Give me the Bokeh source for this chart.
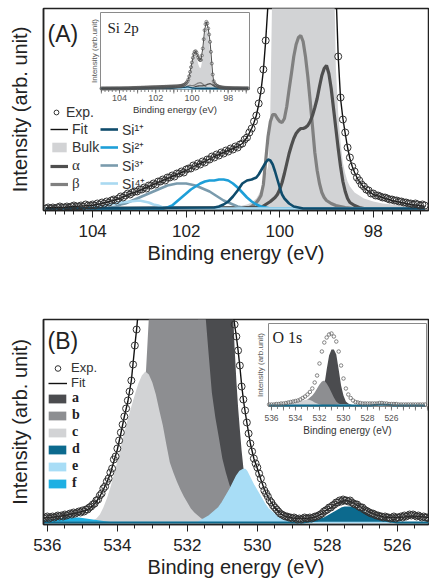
import numpy as np
from bokeh.plotting import figure
from bokeh.models import Range1d, FixedTicker, Legend, LegendItem, Label
from bokeh.layouts import column
from bokeh.embed import file_html
from bokeh.resources import INLINE
from bokeh.core.properties import value

# ======================= DATA : Si 2p (panel A) =======================
# (binding energy eV, intensity arb.u.)
si_exp = [
(105.00,0),(104.95,1),(104.90,0),(104.85,1),(104.80,0),(104.75,1),(104.70,2),(104.65,1),(104.60,1),(104.55,2),
(104.50,1),(104.45,2),(104.40,3),(104.35,2),(104.30,2),(104.25,3),(104.20,2),(104.15,4),(104.10,3),(104.05,3),
(104.00,4),(103.95,3),(103.90,5),(103.85,4),(103.80,6),(103.75,5),(103.70,7),(103.65,6),(103.60,8),(103.55,9),
(103.50,8),(103.45,10),(103.40,12),(103.35,11),(103.30,13),(103.25,15),(103.20,14),(103.15,16),(103.10,17),(103.05,17),
(103.00,19),(102.95,19),(102.90,21),(102.85,20),(102.80,23),(102.75,23),(102.70,25),(102.65,24),(102.60,27),(102.55,27),
(102.50,29),(102.45,28),(102.40,31),(102.35,31),(102.30,33),(102.25,32),(102.20,35),(102.15,35),(102.10,37),(102.05,36),
(102.00,39),(101.95,40),(101.90,40),(101.85,43),(101.80,42),(101.75,45),(101.70,44),(101.65,47),(101.60,46),(101.55,49),
(101.50,49),(101.45,52),(101.40,51),(101.35,54),(101.30,53),(101.25,56),(101.20,55),(101.15,58),(101.10,57),(101.05,60),
(101.00,59),(100.95,62),(100.90,61),(100.85,64),(100.80,65),(100.75,69),(100.70,71),(100.65,76),(100.60,80),(100.55,87),
(100.50,93),(100.45,105),(100.40,118),(100.35,139),(100.30,168),(100.25,206),(100.20,270),(100.15,370),(100.10,500),(100.05,640),
(100.00,780),(99.95,920),(99.90,1030),(99.85,1100),(99.80,1120),(99.75,1080),(99.70,1000),(99.65,930),(99.60,880),(99.55,850),
(99.50,860),(99.45,990),(99.40,1200),(99.35,1480),(99.30,1750),(99.25,1930),(99.20,2000),(99.15,1950),(99.10,1800),(99.05,1620),
(99.00,1400),(98.95,1100),(98.90,750),(98.85,420),(98.80,222),(98.75,152),(98.70,111),(98.65,89),(98.60,76),(98.55,61),
(98.50,51),(98.45,42),(98.40,37),(98.35,31),(98.30,28),(98.25,24),(98.20,22),(98.15,19),(98.10,18),(98.05,15),
(98.00,15),(97.95,13),(97.90,13),(97.85,12),(97.80,11),(97.75,11),(97.70,10),(97.65,9),(97.60,9),(97.55,8),
(97.50,8),(97.45,7),(97.40,7),(97.35,6),(97.30,6),(97.25,5),(97.20,5),(97.15,4),(97.10,5),(97.05,4),
(97.00,3),(96.95,4),(96.90,3)]
si_fit = [
(105.0,0.5),(104.8,1),(104.6,1.2),(104.4,2),(104.2,2.6),(104.0,3.3),(103.8,5),(103.6,7.5),(103.4,10.5),(103.2,14.5),
(103.0,18),(102.8,22),(102.6,26),(102.4,30),(102.2,34),(102.0,38),(101.8,43),(101.6,47),(101.4,52),(101.2,56),
(101.0,60),(100.9,62),(100.8,65),(100.7,71),(100.6,80),(100.55,86),(100.5,93),(100.45,104),(100.4,118),(100.35,138),
(100.3,168),(100.25,205),(100.2,270),(100.1,500),(100.0,780),(99.9,1030),(99.8,1120),(99.7,1000),(99.6,880),(99.5,860),
(99.4,1200),(99.3,1750),(99.2,2000),(99.1,1800),(99.0,1400),(98.95,1100),(98.9,750),(98.85,420),(98.8,220),(98.75,152),
(98.7,110),(98.65,90),(98.6,75),(98.55,61),(98.5,50),(98.45,42),(98.4,36),(98.35,31),(98.3,27),(98.2,21),
(98.1,17),(98.0,14),(97.8,11),(97.6,8),(97.4,6),(97.2,4),(97.0,3),(96.9,2)]
si_bulk = [
(101.0,1),(100.8,3),(100.7,4),(100.6,6),(100.5,10),(100.45,14),(100.4,19),(100.35,26),(100.3,34),(100.25,42),
(100.2,100),(100.15,250),(100.1,430),(100.05,620),(100.0,780),(99.95,900),(99.9,960),(99.85,990),(99.8,985),(99.75,930),
(99.7,840),(99.65,730),(99.6,650),(99.55,610),(99.5,640),(99.45,790),(99.4,1000),(99.35,1270),(99.3,1530),(99.25,1720),
(99.2,1790),(99.15,1740),(99.1,1590),(99.05,1380),(99.0,1120),(98.95,780),(98.9,470),(98.85,260),(98.8,140),(98.75,95),
(98.7,66),(98.65,46),(98.6,35),(98.55,27),(98.5,22),(98.4,16),(98.3,13),(98.2,10),(98.0,7),(97.8,5),
(97.6,4),(97.4,3),(97.2,3),(97.0,2),(96.9,2)]
si_alpha = [
(105.0,0),(100.4,1),(100.3,4),(100.2,7),(100.1,11),(100.05,14),(100.0,19),(99.95,26),(99.9,35),(99.85,45),
(99.8,55),(99.75,63),(99.7,70),(99.65,75),(99.6,78),(99.55,80),(99.5,80),(99.45,81),(99.4,83),(99.35,87),
(99.3,93),(99.25,101),(99.2,110),(99.15,122),(99.1,133),(99.05,140),(99.0,143),(98.95,135),(98.9,120),(98.85,100),
(98.8,80),(98.75,60),(98.7,42),(98.65,27),(98.6,17),(98.55,10),(98.5,6),(98.4,3),(98.3,1),(98.2,0),(96.9,0)]
si_beta = [
(105.0,0),(100.7,0),(100.6,2),(100.5,6),(100.45,9),(100.4,13),(100.35,24),(100.3,48),(100.25,72),(100.2,87),
(100.15,94),(100.1,94),(100.05,90),(100.0,87),(99.95,86),(99.9,90),(99.85,102),(99.8,119),(99.75,135),(99.7,152),
(99.65,164),(99.6,171),(99.55,173),(99.5,167),(99.45,152),(99.4,132),(99.35,108),(99.3,82),(99.25,56),(99.2,38),
(99.15,25),(99.1,16),(99.05,11),(99.0,8),(98.9,5),(98.8,3),(98.7,2),(98.6,1),(98.4,0),(96.9,0)]
si_1p = [
(105.0,0),(101.4,1),(101.3,2),(101.2,4),(101.1,7),(101.0,12),(100.9,18),(100.8,25),(100.7,28),(100.6,29),
(100.5,31),(100.45,34),(100.4,38),(100.35,42),(100.3,46),(100.25,49),(100.2,48),(100.15,44),(100.1,37),(100.05,29),
(100.0,21),(99.95,14),(99.9,10),(99.8,5),(99.7,2),(99.6,1),(99.5,0),(96.9,0)]
si_2p = [
(105.0,0),(102.5,0),(102.4,1),(102.3,3),(102.2,7),(102.1,11),(102.0,15),(101.9,19),(101.8,22),(101.7,25),
(101.6,27),(101.5,28),(101.4,28),(101.3,29),(101.2,29),(101.1,28),(101.0,25),(100.9,21),(100.8,16),(100.7,11),
(100.6,7),(100.5,4),(100.4,2),(100.3,1),(100.2,0),(96.9,0)]
si_3p = [
(105.0,0),(103.7,0),(103.6,1),(103.5,2),(103.4,4),(103.3,5),(103.2,7),(103.1,9),(103.0,11),(102.9,13),
(102.8,15),(102.7,17),(102.6,19),(102.5,21),(102.4,23),(102.3,24),(102.2,25),(102.1,25),(102.0,25),(101.9,24),
(101.8,23),(101.7,21),(101.6,19),(101.5,17),(101.4,14),(101.3,11),(101.2,8),(101.1,6),(101.0,4),(100.9,2),
(100.8,1),(100.7,0),(96.9,0)]
si_4p = [
(105.0,0),(104.1,0),(104.0,1),(103.8,2),(103.6,4),(103.4,6),(103.2,7),(103.0,8),(102.9,7),(102.8,6),
(102.7,4),(102.6,3),(102.5,1),(102.4,0),(96.9,0)]
si_ticks = [104, 102, 100, 98]

# ======================= DATA : O 1s (panel B) =======================
o_exp = [
(536.10,4),(536.05,5),(536.00,6),(535.95,4),(535.90,5),(535.85,6),(535.80,5),(535.75,6),(535.70,7),(535.65,6),
(535.60,7),(535.55,6),(535.50,8),(535.45,7),(535.40,8),(535.35,9),(535.30,8),(535.25,10),(535.20,9),(535.15,10),
(535.10,11),(535.05,10),(535.00,12),(534.95,11),(534.90,13),(534.85,13),(534.80,15),(534.75,16),(534.70,18),(534.65,19),
(534.60,22),(534.55,23),(534.50,27),(534.45,29),(534.40,34),(534.35,36),(534.30,41),(534.25,44),(534.20,50),(534.15,54),
(534.10,63),(534.05,66),(534.00,74),(533.95,82),(533.90,90),(533.85,98),(533.80,106),(533.75,114),(533.70,122),(533.65,131),
(533.60,142),(533.55,158),(533.50,177),(533.45,193),(533.40,212),(533.35,240),(533.30,265),(533.25,295),(533.20,325),(533.15,360),
(533.10,400),(533.05,440),(533.00,480),(532.95,525),(532.90,570),(532.85,610),(532.80,660),(532.75,710),(532.70,760),(532.65,820),
(532.60,870),(532.55,920),(532.50,960),(532.45,1000),(532.40,1040),(532.35,1080),(532.30,1110),(532.25,1140),(532.20,1160),(532.15,1180),
(532.10,1190),(532.05,1195),(532.00,1195),(531.95,1190),(531.90,1180),(531.85,1160),(531.80,1130),(531.75,1100),(531.70,1060),(531.65,1010),
(531.60,960),(531.55,900),(531.50,840),(531.45,780),(531.40,720),(531.35,660),(531.30,600),(531.25,540),(531.20,490),(531.15,440),
(531.10,400),(531.05,360),(531.00,330),(530.95,300),(530.90,275),(530.85,255),(530.80,240),(530.75,225),(530.70,212),(530.65,198),
(530.60,186),(530.55,172),(530.50,157),(530.45,136),(530.40,123),(530.35,112),(530.30,100),(530.25,89),(530.20,79),(530.15,71),
(530.10,64),(530.05,59),(530.00,55),(529.95,49),(529.90,44),(529.85,37),(529.80,32),(529.75,29),(529.70,26),(529.65,22),
(529.60,20),(529.55,17),(529.50,15),(529.45,13),(529.40,11),(529.35,9),(529.30,8),(529.25,7),(529.20,6),(529.15,6),
(529.10,5),(529.05,5),(529.00,4),(528.95,5),(528.90,4),(528.85,3),(528.80,4),(528.75,3),(528.70,4),(528.65,5),
(528.60,4),(528.55,4),(528.50,5),(528.45,4),(528.40,5),(528.35,6),(528.30,6),(528.25,7),(528.20,8),(528.15,9),
(528.10,11),(528.05,12),(528.00,13),(527.95,15),(527.90,15),(527.85,17),(527.80,18),(527.75,20),(527.70,20),(527.65,22),
(527.60,21),(527.55,23),(527.50,22),(527.45,22),(527.40,21),(527.35,22),(527.30,20),(527.25,19),(527.20,18),(527.15,18),
(527.10,16),(527.05,15),(527.00,15),(526.95,13),(526.90,12),(526.85,11),(526.80,10),(526.75,9),(526.70,9),(526.65,8),
(526.60,7),(526.55,7),(526.50,6),(526.45,6),(526.40,5),(526.35,6),(526.30,5),(526.25,5),(526.20,4),(526.15,5),
(526.10,6),(526.05,4),(526.00,5),(525.95,5),(525.90,6),(525.85,5),(525.80,7),(525.75,6),(525.70,7),(525.65,8),
(525.60,7),(525.55,8),(525.50,7),(525.45,6),(525.40,7),(525.35,6),(525.30,5),(525.25,6),(525.20,5),(525.15,5),
(525.10,4)]
o_fit = [
(536.1,4.5),(535.9,5),(535.7,6),(535.5,7),(535.3,8.5),(535.1,10),(534.9,12),(534.8,14),(534.7,17),(534.6,21),
(534.5,26),(534.4,33),(534.3,40),(534.2,49),(534.1,61),(534.0,73),(533.9,89),(533.8,106),(533.7,121),(533.6,142),
(533.5,177),(533.45,193),(533.4,212),(533.3,265),(533.2,325),(533.0,480),(532.8,650),(532.5,960),(532.2,1160),(532.0,1195),
(531.8,1130),(531.5,840),(531.2,490),(531.0,330),(530.9,275),(530.8,240),(530.7,212),(530.65,198),(530.6,186),(530.55,172),
(530.5,156),(530.45,138),(530.4,123),(530.35,111),(530.3,100),(530.2,79),(530.1,64),(530.0,54),(529.9,43),(529.8,33),
(529.7,26),(529.6,20),(529.5,15),(529.4,11),(529.3,8),(529.2,6),(529.0,4.5),(528.8,4),(528.6,4),(528.4,5),
(528.3,6),(528.2,8),(528.1,10.5),(528.0,13),(527.9,15),(527.8,17.5),(527.7,19.5),(527.6,21),(527.5,22),(527.4,21.5),
(527.3,20.5),(527.2,18.5),(527.1,16.5),(527.0,14.5),(526.9,12.5),(526.8,10.5),(526.7,9),(526.6,7.5),(526.5,6.5),(526.4,5.5),
(526.2,5),(526.0,5),(525.8,5.5),(525.6,6.5),(525.4,6),(525.1,5)]
o_a = [
(532.6,2),(532.4,8),(532.2,20),(532.0,50),(531.8,120),(531.6,280),(531.5,400),(531.4,540),(531.3,700),(531.2,830),
(531.1,890),(531.0,820),(530.9,600),(530.8,370),(530.75,280),(530.7,215),(530.65,175),(530.6,142),(530.55,115),(530.5,93),
(530.45,72),(530.4,55),(530.35,45),(530.3,37),(530.2,24),(530.1,15),(530.0,10),(529.8,5),(529.6,2),(529.4,1),(529.2,0)]
o_b = [
(534.8,0),(534.4,2),(534.0,6),(533.8,12),(533.6,25),(533.4,60),(533.3,90),(533.2,140),(533.15,172),(533.1,205),
(533.0,270),(532.8,360),(532.6,420),(532.4,450),(532.2,440),(532.0,400),(531.8,330),(531.7,290),(531.6,255),(531.5,215),
(531.4,172),(531.3,130),(531.2,105),(531.1,85),(531.0,64),(530.9,50),(530.8,38),(530.7,28),(530.6,20),(530.5,14),
(530.4,9),(530.3,5),(530.2,3),(530.0,1),(529.8,0)]
o_c = [
(534.9,0),(534.8,1),(534.7,2),(534.6,4),(534.5,8),(534.4,15),(534.3,24),(534.2,35),(534.1,48),(534.0,61),
(533.9,76),(533.8,90),(533.7,104),(533.6,116),(533.5,128),(533.4,139),(533.3,147),(533.2,151),(533.1,148),(533.0,140),
(532.9,128),(532.8,112),(532.7,97),(532.6,78),(532.5,60),(532.4,50),(532.3,41),(532.2,33),(532.1,26),(532.0,20),
(531.9,14),(531.8,10),(531.7,7),(531.6,4),(531.5,3),(531.4,2),(531.2,1),(531.0,0)]
o_d = [
(536.1,0),(528.7,0),(528.5,1),(528.3,2),(528.2,3),(528.1,4),(528.0,6),(527.9,8),(527.8,10),(527.7,12),
(527.6,14),(527.5,15),(527.4,15),(527.3,15),(527.2,14),(527.1,12),(527.0,11),(526.9,9),(526.8,7),(526.7,5),
(526.6,4),(526.5,3),(526.4,2),(526.2,1),(526.0,0),(525.1,0)]
o_e = [
(536.1,0),(531.7,0),(531.6,2),(531.5,4),(531.4,6),(531.3,9),(531.2,12),(531.1,15),(531.0,20),(530.9,26),
(530.8,32),(530.7,39),(530.6,46),(530.5,51),(530.4,53),(530.35,53),(530.3,51),(530.2,44),(530.1,37),(530.0,31),
(529.9,25),(529.8,19),(529.7,14),(529.6,11),(529.5,8),(529.4,5),(529.3,3),(529.2,2),(529.0,1),(528.8,0),(525.1,0)]
o_f = [
(536.1,2),(535.9,3),(535.7,4),(535.5,5),(535.3,5),(535.1,5),(534.9,4),(534.7,3),(534.5,2),(534.3,1),(534.1,0)]
o_ticks = [536, 534, 532, 530, 528, 526]

# O 1s overview spectrum shown in the inset (as recorded there)
oi_exp = [
(536.2,1),(536.0,1),(535.8,1),(535.6,1.5),(535.4,1.5),(535.2,2),(535.0,2),(534.8,2.5),(534.6,3),(534.4,3.5),
(534.2,4),(534.0,4.5),(533.8,5),(533.6,6),(533.4,7.5),(533.2,9),(533.0,11),(532.8,13.5),(532.6,17),(532.4,23),
(532.2,30),(532.0,42),(531.8,54),(531.6,63),(531.4,68),(531.2,71),(531.0,72),(530.8,69),(530.6,64),(530.4,54),
(530.2,40),(530.0,27),(529.8,17),(529.6,11),(529.4,7.5),(529.2,5),(529.0,3.5),(528.8,3),(528.6,2.5),(528.4,2),
(528.2,2),(528.0,2),(527.8,2),(527.6,2),(527.4,2),(527.2,2),(527.0,2.5),(526.8,2.5),(526.6,2),(526.4,2),
(526.2,1.5),(526.0,1.5),(525.8,1.5),(525.6,1.5),(525.4,1),(525.2,1),(525.0,1),(524.8,1),(524.6,1),(524.4,1),
(524.2,1),(524.0,1),(523.8,1),(523.6,1),(523.4,1),(523.2,1)]
oi_a = [
(532.6,0),(532.4,1),(532.2,3),(532.0,6),(531.8,11),(531.6,20),(531.4,36),(531.2,50),(531.0,56),(530.8,56),
(530.6,51),(530.4,36),(530.2,20),(530.0,10),(529.8,4),(529.6,2),(529.4,1),(529.2,0)]
oi_b = [
(534.6,0),(534.4,1),(534.0,2),(533.6,3),(533.4,3.5),(533.2,4.5),(533.0,6),(532.8,8),(532.6,10),(532.4,13),
(532.2,17),(532.0,21),(531.8,24),(531.6,25),(531.4,22),(531.2,18),(531.0,13),(530.8,8),(530.6,4),(530.4,2),
(530.2,1),(530.0,0)]
oi_c = [
(535.4,0),(535.2,0.5),(534.8,1.5),(534.4,2.5),(534.0,3.5),(533.6,4.5),(533.2,5.5),(533.0,6),(532.8,5.5),(532.6,4.5),
(532.4,3),(532.2,2),(532.0,1),(531.8,0.5),(531.6,0)]
oi_e = [(531.2,0),(530.8,0.5),(530.4,1),(530.0,1.2),(529.6,1),(529.2,0.5),(528.8,0)]
oi_d = [(536.2,0),(527.8,0),(527.4,0.5),(527.0,0.8),(526.6,0.8),(526.2,0.5),(525.8,0),(523.2,0)]

# ======================= STYLE =======================
FONT = "Liberation Sans"
SERIF = "Liberation Serif"
INK = "#222222"
C_BULK, C_ALPHA, C_BETA = "#d2d3d5", "#4f4f4f", "#808080"
C_SI1, C_SI2, C_SI3, C_SI4 = "#0f4c6c", "#1e9fd8", "#7a9bad", "#a9d9f1"
C_A, C_B, C_C, C_D, C_E, C_F = "#4b4c4f", "#8d8e91", "#d2d3d5", "#0c6a8e", "#a8ddf6", "#1fb0e3"

W = 429
FL, FR = 43, 428


def xy(pairs):
    return [q[0] for q in pairs], [q[1] for q in pairs]


def lin(p, p0, p1, v0, v1):
    return v0 + (p - p0) * (v1 - v0) / (p1 - p0)


def base_fig(height, ftop, fbot, xr, yr, ticks, minor):
    p = figure(width=W, height=height, x_range=Range1d(*xr), y_range=Range1d(*yr),
               output_backend="svg", toolbar_location=None,
               min_border_left=FL, min_border_right=W - FR,
               min_border_top=ftop, min_border_bottom=height - fbot)
    p.grid.visible = False
    p.outline_line_color = INK
    p.outline_line_width = 1.5
    p.outline_line_alpha = 1
    xa = p.xaxis[0]
    xa.ticker = FixedTicker(ticks=ticks, minor_ticks=minor)
    xa.major_tick_out = 7
    xa.major_tick_in = 0
    xa.minor_tick_out = 4
    xa.minor_tick_in = 0
    xa.major_tick_line_color = INK
    xa.minor_tick_line_color = INK
    xa.axis_line_color = INK
    xa.axis_line_width = 1.5
    xa.major_label_text_font = FONT
    xa.major_label_text_font_size = "17px"
    xa.major_label_text_color = INK
    xa.major_label_standoff = 7
    xa.axis_label = "Binding energy (eV)"
    xa.axis_label_text_font = FONT
    xa.axis_label_text_font_size = "20px"
    xa.axis_label_text_font_style = "normal"
    xa.axis_label_text_color = INK
    xa.axis_label_standoff = 2
    ya = p.yaxis[0]
    ya.ticker = FixedTicker(ticks=[])
    ya.major_tick_out = 0
    ya.minor_tick_out = 0
    ya.major_label_standoff = 0
    ya.axis_line_color = INK
    ya.axis_line_width = 1.5
    ya.axis_label = "Intensity (arb. unit)"
    ya.axis_label_text_font = FONT
    ya.axis_label_text_font_size = "20px"
    ya.axis_label_text_font_style = "normal"
    ya.axis_label_text_color = INK
    ya.axis_label_standoff = 13
    return p


def add_legend(p, fbot, items, left_px, top_px, gw, gh, lh, sp, font, size, bold=False, color="#333333"):
    n = len(items)
    e = max(gh, lh)
    h = n * e + (n - 1) * sp
    lg = Legend(items=[LegendItem(label=l, renderers=[r]) for l, r in items],
                location=(left_px - FL, fbot - top_px - h))
    lg.background_fill_alpha = 0
    lg.border_line_alpha = 0
    lg.padding = 0
    lg.margin = 0
    lg.spacing = sp
    lg.glyph_width = gw
    lg.glyph_height = gh
    lg.label_height = lh
    lg.label_standoff = 4
    lg.label_text_font = font
    lg.label_text_font_size = size
    lg.label_text_color = color
    lg.label_text_font_style = "bold" if bold else "normal"
    p.add_layout(lg)
    return lg


def inset_frame(p, ftop, fbot, box, ixr, iyr):
    l, r, t, b = box
    p.extra_x_ranges["ix"] = Range1d(start=lin(FL, l, r, *ixr), end=lin(FR, l, r, *ixr))
    p.extra_y_ranges["iy"] = Range1d(start=lin(fbot, b, t, *iyr), end=lin(ftop, b, t, *iyr))
    p.quad(left=[ixr[0]], right=[ixr[1]], bottom=[iyr[0]], top=[iyr[1]],
           x_range_name="ix", y_range_name="iy",
           fill_color="white", line_color="#8a8a8a", line_width=1)


def inset_axis(p, box, ixr, iyr, minor, major, labels, lab_size, xlab_size, ylab_x, lab_top, xlab_top):
    l, r, t, b = box
    Y = lambda py: lin(py, b, t, *iyr)
    X = lambda px: lin(px, l, r, *ixr)
    kw = dict(x_range_name="ix", y_range_name="iy")
    p.segment(x0=minor, y0=[iyr[0]] * len(minor), x1=minor, y1=[Y(b + 2.5)] * len(minor),
              line_color="#666666", line_width=0.8, **kw)
    p.segment(x0=major, y0=[iyr[0]] * len(major), x1=major, y1=[Y(b + 4)] * len(major),
              line_color="#666666", line_width=0.8, **kw)
    p.text(x=labels, y=[Y(lab_top)] * len(labels), text=[str(v) for v in labels],
           text_font=value(FONT), text_font_size=value(lab_size), text_color="#555555",
           text_align="center", text_baseline="top", **kw)
    p.text(x=[(ixr[0] + ixr[1]) / 2], y=[Y(xlab_top)], text=["Binding energy (eV)"],
           text_font=value(FONT), text_font_size=value(xlab_size), text_color="#333333",
           text_align="center", text_baseline="top", **kw)
    p.text(x=[X(ylab_x)], y=[(iyr[0] + iyr[1]) / 2], text=["Intensity (arb.unit)"], angle=np.pi / 2,
           text_font=value(FONT), text_font_size=value("8px"), text_color="#555555",
           text_align="center", text_baseline="middle", **kw)


# ======================= PANEL A =======================
H1, F1T, F1B = 290, 8, 210
X1R, Y1R = (105.05, 96.82), (-2, 200)
minorA = [round(105.0 - 0.2 * i, 1) for i in range(41)]
pA = base_fig(H1, F1T, F1B, X1R, Y1R, si_ticks, minorA)

bx, by = xy(si_bulk)
r_bulk = pA.varea(x=bx, y1=0, y2=by, fill_color=C_BULK)
comps_A = [(si_beta, C_BETA, 3.2), (si_alpha, C_ALPHA, 3.2), (si_3p, C_SI3, 2.6),
           (si_2p, C_SI2, 2.6), (si_4p, C_SI4, 2.6), (si_1p, C_SI1, 2.6)]
rA = []
for dat, col, lw in comps_A:
    cx, cy = xy(dat)
    rA.append(pA.line(cx, cy, line_color=col, line_width=lw))
r_beta, r_alpha, r_si3, r_si2, r_si4, r_si1 = rA
fx, fy = xy(si_fit)
r_fit = pA.line(fx, fy, line_color="#111111", line_width=1.4)
ex, ey = xy(si_exp)
r_exp = pA.scatter(ex, ey, marker="circle", size=7, fill_alpha=0, line_color="#333333", line_width=1)

# inset A
boxA = (100, 249, 12, 89)
ixA, iyA = (105.05, 96.82), (-30, 2280)
inset_frame(pA, F1T, F1B, boxA, ixA, iyA)
kwi = dict(x_range_name="ix", y_range_name="iy")
pA.varea(x=bx, y1=0, y2=by, fill_color=C_BULK, **kwi)
for dat, col, lw in comps_A:
    cx, cy = xy(dat)
    pA.line(cx, cy, line_color=col, line_width=1.3, **kwi)
pA.line(fx, fy, line_color="#222222", line_width=0.8, **kwi)
pA.scatter(ex, ey, marker="circle", size=3, fill_alpha=0, line_color="#555555", line_width=0.7, **kwi)
inset_axis(pA, boxA, ixA, iyA, minorA, [105, 104, 103, 102, 101, 100, 99, 98, 97], si_ticks,
           "9px", "9.5px", 93.5, 94, 103)
pA.text(x=[lin(107, boxA[0], boxA[1], *ixA)], y=[lin(19, boxA[3], boxA[2], *iyA)], text=["Si 2p"],
        text_font=value(SERIF), text_font_size=value("15px"), text_color="#222222",
        text_align="left", text_baseline="top", **kwi)

pA.add_layout(Label(x=lin(47, FL, FR, *X1R), y=lin(33, F1B, F1T, *Y1R), text="(A)",
                    text_font=FONT, text_font_size="23px", text_color=INK, text_baseline="middle"))

add_legend(pA, F1B, [("Exp.", r_exp)], 50, 104, 12, 16, 16, 0, FONT, "14px")
add_legend(pA, F1B, [("Fit", r_fit), ("Bulk", r_bulk)], 50, 121, 18, 12, 16, 2, FONT, "14px")
add_legend(pA, F1B, [("\u03b1", r_alpha), ("\u03b2", r_beta)], 50, 157, 18, 12, 17, 1, SERIF, "15px")
si_rows = [("Si\u00b9\u207a", r_si1, 129), ("Si\u00b2\u207a", r_si2, 147),
           ("Si\u00b3\u207a", r_si3, 165), ("Si\u2074\u207a", r_si4, 183)]
for lab, rr, yc in si_rows:
    add_legend(pA, F1B, [(lab, rr)], 100, yc - 9.5, 18, 12, 19, 0, FONT, "14px")

# ======================= PANEL B =======================
H2, F2T, F2B = 298, 29, 234
X2R, Y2R = (536.11, 525.11), (-2, 203)
minorB = [536.0 - 0.5 * i for i in range(22)]
pB = base_fig(H2, F2T, F2B, X2R, Y2R, o_ticks, minorB)

fills_B = [(o_a, C_A), (o_b, C_B), (o_c, C_C), (o_f, C_F), (o_e, C_E), (o_d, C_D)]
rB = []
for dat, col in fills_B:
    cx, cy = xy(dat)
    rB.append(pB.varea(x=cx, y1=0, y2=cy, fill_color=col))
r_a, r_b, r_c, r_f, r_e, r_d = rB
cx, cy = xy(o_e)
pB.line(cx, cy, line_color=C_E, line_width=1.5)
cx, cy = xy(o_d)
pB.line(cx, cy, line_color=C_D, line_width=2)
gx, gy = xy(o_fit)
r_fitB = pB.line(gx, gy, line_color="#111111", line_width=1.4)
hx, hy = xy(o_exp)
r_expB = pB.scatter(hx, hy, marker="circle", size=7, fill_alpha=0, line_color="#333333", line_width=1)

# inset B
boxB = (268, 426, 33, 116)
ixB, iyB = (536.25, 523.08), (-1, 82)
inset_frame(pB, F2T, F2B, boxB, ixB, iyB)
for dat, col in [(oi_a, C_A), (oi_b, C_B), (oi_c, C_C), (oi_e, C_E)]:
    cx, cy = xy(dat)
    pB.varea(x=cx, y1=0, y2=cy, fill_color=col, **kwi)
cx, cy = xy(oi_d)
pB.varea(x=cx, y1=0, y2=cy, fill_color=C_D, **kwi)
pB.line(cx, cy, line_color=C_D, line_width=1.8, **kwi)
ix_, iy_ = xy(oi_exp)
pB.scatter(ix_, iy_, marker="circle", size=3.5, fill_alpha=0, line_color="#666666", line_width=0.8, **kwi)
minorBi = [536.0 - 0.5 * i for i in range(27)]
inset_axis(pB, boxB, ixB, iyB, minorBi, [536 - i for i in range(14)], o_ticks,
           "8.5px", "10px", 260, 124, 134)
pB.text(x=[lin(272, boxB[0], boxB[1], *ixB)], y=[lin(38, boxB[3], boxB[2], *iyB)], text=["O 1s"],
        text_font=value(SERIF), text_font_size=value("16px"), text_color="#222222",
        text_align="left", text_baseline="top", **kwi)

pB.add_layout(Label(x=lin(47, FL, FR, *X2R), y=lin(50, F2B, F2T, *Y2R), text="(B)",
                    text_font=FONT, text_font_size="23px", text_color=INK, text_baseline="middle"))

add_legend(pB, F2B, [("Exp.", r_expB), ("Fit", r_fitB)], 48, 70, 19, 14, 15, 0, FONT, "13px")
add_legend(pB, F2B, [("a", r_a), ("b", r_b), ("c", r_c), ("d", r_d), ("e", r_e), ("f", r_f)],
           46, 100, 22, 11, 16, 1, SERIF, "14px", bold=True, color="#222222")

layout = column(pA, pB, spacing=0)
open("out.html", "w").write(file_html(layout, INLINE))
